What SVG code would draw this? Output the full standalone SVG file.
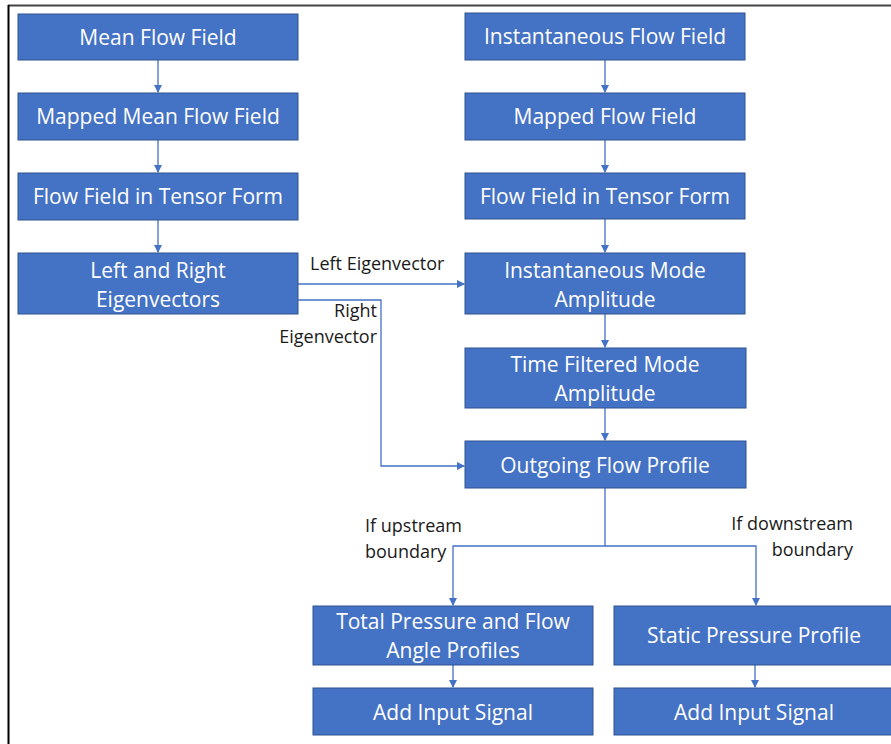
<svg xmlns="http://www.w3.org/2000/svg" width="891" height="744" viewBox="0 0 891 744">
<style>
.box{fill:#4472C4;stroke:#2F528F;stroke-width:1}
.bt{font-family:"Open Sans","Liberation Sans",sans-serif;font-size:21px;fill:#ffffff;text-anchor:middle}
.lbl{font-family:"Open Sans","Liberation Sans",sans-serif;font-size:18px;fill:#1a1a1a}
.con{fill:none;stroke:#4472C4;stroke-width:1.3}
</style>
<defs>
<marker id="ah" markerWidth="8" markerHeight="8" refX="7" refY="4" orient="auto" markerUnits="userSpaceOnUse">
<path d="M0,0 L8,4 L0,8 Z" fill="#4472C4"/>
</marker>
</defs>
<rect x="0" y="0" width="891" height="744" fill="#ffffff"/>
<line x1="8" y1="5.5" x2="891" y2="5.5" stroke="#444" stroke-width="2"/>
<line x1="8.5" y1="5" x2="8.5" y2="744" stroke="#000" stroke-width="2"/>
<g id="connectors">
<path class="con" d="M158,60 V92" marker-end="url(#ah)"/>
<path class="con" d="M158,140 V172" marker-end="url(#ah)"/>
<path class="con" d="M158,220 V252" marker-end="url(#ah)"/>
<path class="con" d="M605,60 V92" marker-end="url(#ah)"/>
<path class="con" d="M605,140 V172" marker-end="url(#ah)"/>
<path class="con" d="M605,219 V252" marker-end="url(#ah)"/>
<path class="con" d="M605,314 V347" marker-end="url(#ah)"/>
<path class="con" d="M605,408 V440" marker-end="url(#ah)"/>
<path class="con" d="M298,284 H464" marker-end="url(#ah)"/>
<path class="con" d="M298,300 H381 V466 H464" marker-end="url(#ah)"/>
<path class="con" d="M605,488 V546 H453 V605" marker-end="url(#ah)"/>
<path class="con" d="M605,546 H756 V605" marker-end="url(#ah)"/>
<path class="con" d="M453,665 V687" marker-end="url(#ah)"/>
<path class="con" d="M755,665 V687" marker-end="url(#ah)"/>
</g>
<g id="labels">
<text class="lbl" x="310" y="270">Left Eigenvector</text>
<text class="lbl" x="377" y="317" text-anchor="end">Right</text>
<text class="lbl" x="377" y="343" text-anchor="end">Eigenvector</text>
<text class="lbl" x="365" y="532">If upstream</text>
<text class="lbl" x="365" y="558">boundary</text>
<text class="lbl" x="853" y="530" text-anchor="end">If downstream</text>
<text class="lbl" x="853" y="556" text-anchor="end">boundary</text>
</g>
<g id="n1"><rect class="box" x="18" y="14" width="280" height="46"/><text class="bt" x="158" y="45">Mean Flow Field</text></g>
<g id="n2"><rect class="box" x="18" y="93" width="280" height="47"/><text class="bt" x="158" y="124">Mapped Mean Flow Field</text></g>
<g id="n3"><rect class="box" x="18" y="173" width="280" height="47"/><text class="bt" x="158" y="204">Flow Field in Tensor Form</text></g>
<g id="n4"><rect class="box" x="18" y="253" width="280" height="61"/><text class="bt" x="158" y="278">Left and Right</text><text class="bt" x="158" y="307">Eigenvectors</text></g>
<g id="n5"><rect class="box" x="465" y="13" width="280" height="47"/><text class="bt" x="605" y="44">Instantaneous Flow Field</text></g>
<g id="n6"><rect class="box" x="465" y="93" width="280" height="47"/><text class="bt" x="605" y="124">Mapped Flow Field</text></g>
<g id="n7"><rect class="box" x="465" y="173" width="280" height="46"/><text class="bt" x="605" y="204">Flow Field in Tensor Form</text></g>
<g id="n8"><rect class="box" x="465" y="253" width="280" height="61"/><text class="bt" x="605" y="278">Instantaneous Mode</text><text class="bt" x="605" y="307">Amplitude</text></g>
<g id="n9"><rect class="box" x="465" y="348" width="281" height="60"/><text class="bt" x="605" y="372">Time Filtered Mode</text><text class="bt" x="605" y="401">Amplitude</text></g>
<g id="n10"><rect class="box" x="465" y="441" width="281" height="47"/><text class="bt" x="605" y="473">Outgoing Flow Profile</text></g>
<g id="n11"><rect class="box" x="313" y="606" width="280" height="59"/><text class="bt" x="453" y="629">Total Pressure and Flow</text><text class="bt" x="453" y="658">Angle Profiles</text></g>
<g id="n12"><rect class="box" x="614" y="606" width="280" height="59"/><text class="bt" x="754" y="643">Static Pressure Profile</text></g>
<g id="n13"><rect class="box" x="313" y="688" width="280" height="47"/><text class="bt" x="453" y="720">Add Input Signal</text></g>
<g id="n14"><rect class="box" x="614" y="688" width="280" height="47"/><text class="bt" x="754" y="720">Add Input Signal</text></g>
</svg>
